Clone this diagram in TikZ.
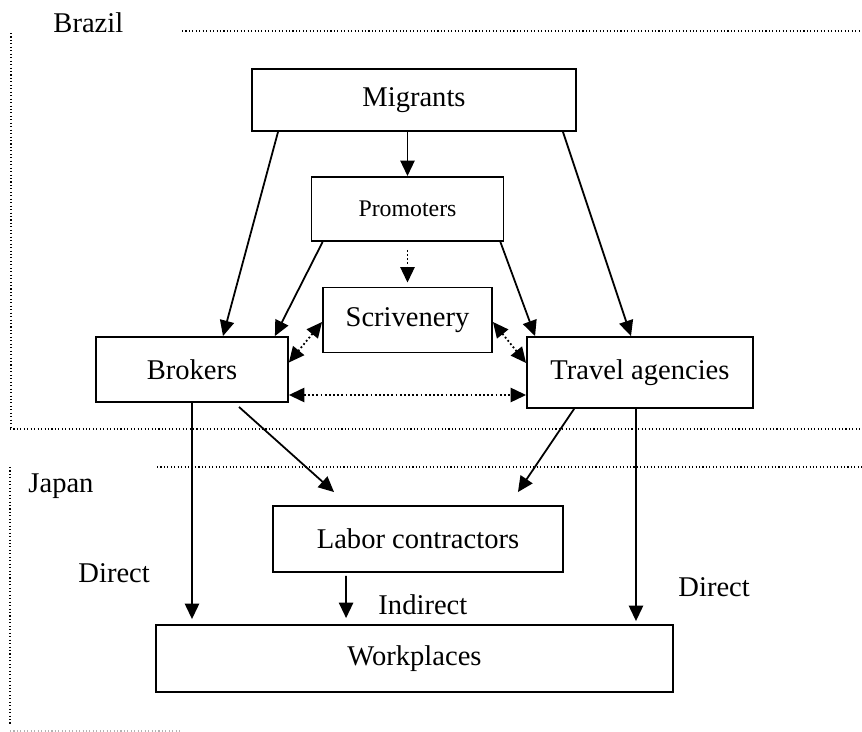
\documentclass[tikz,border=0pt]{standalone}
\usepackage{fontspec}
\setmainfont{Liberation Serif}
\usetikzlibrary{arrows.meta, calc}

\begin{document}
\begin{tikzpicture}[x=0.42pt, y=-0.42pt,
	box/.style={draw, line width=0.8pt, inner sep=0pt, font=\fontsize{12}{14}\selectfont},
	tag/.style={inner sep=0pt, anchor=base west, font=\fontsize{12}{14}\selectfont},
	link/.style={line width=0.75pt, -{Triangle[length=6.5pt, width=6pt]}},
	twoway/.style={line width=0.75pt, densely dotted, {Triangle[length=6.5pt, width=6pt]}-{Triangle[length=6.5pt, width=6pt]}},
	border/.style={line width=0.45pt, densely dotted}]
	   \useasboundingbox (0, 0) rectangle (862, 732);
	   % country borders
	   \draw [border] (182, 31) -- (862, 31);
	   \draw [border] (11, 33) -- (11, 429);
	   \draw [border] (10, 429) -- (862, 429);
	   \draw [border] (157, 467) -- (862, 467);
	   \draw [border] (10, 467) -- (10, 724);
	   \draw [border, gray!60] (10, 731) -- (180, 731);
	   \node [tag] (brazil) at (53, 32) {Brazil};
	   \node [tag] (japan) at (28, 492) {Japan};
	   % the boxes
	   \node [box, minimum width=136.1pt, minimum height=26pt] (migrants) at (414, 100) {Migrants};
	   \node [box, minimum width=80.6pt, minimum height=26.9pt, font=\fontsize{10}{12}\selectfont] (promoters) at (407.5, 209) {Promoters};
	   \node [box, minimum width=71pt, minimum height=27.3pt] (scriv) at (407.5, 320) {Scrivenery};
	   \node [box, minimum width=80.6pt, minimum height=27.3pt] (brokers) at (192, 369.5) {Brokers};
	   \node [box, minimum width=94.9pt, minimum height=29.8pt] (travel) at (640, 372.5) {Travel agencies};
	   \node [box, minimum width=121.8pt, minimum height=27.7pt] (labor) at (418, 539) {Labor contractors};
	   \node [box, minimum width=217.1pt, minimum height=28.1pt] (work) at (414.5, 658.5) {Workplaces};
	   % brazil side
	   \draw [link] (migrants.south -| promoters.north) -- (promoters.north);
	   \draw [link] ($(migrants.south west)+(27, 0)$) -- ($(brokers.north)+(31, 0)$);
	   \draw [link] ($(migrants.south east)+(-14, 0)$) -- ($(travel.north)+(-9, 0)$);
	   \draw [link] ($(promoters.south west)+(12, 0)$) -- ($(brokers.north east)+(-14, 0)$);
	   \draw [link] ($(promoters.south east)+(-4, 0)$) -- ($(travel.north west)+(9, 0)$);
	   \draw [link, densely dotted] ($(promoters.south)+(0, 8)$) -- ($(scriv.north)+(0, -4)$);
	   \draw [twoway] ($(scriv.west)+(0, 2)$) -- ($(brokers.east)+(0, -7)$);
	   \draw [twoway] ($(scriv.east)+(0, 2)$) -- ($(travel.west)+(0, -9.5)$);
	   \draw [twoway] ($(brokers.east)+(0, 25.5)$) -- ($(travel.west)+(0, 22.5)$);
	   % japan side
	   \draw [link] (brokers.south) -- ($(brokers.south |- work.north)+(0, -5)$);
	   \draw [link] ($(brokers.south)+(47, 4)$) -- ($(labor.north west)+(62, -13)$);
	   \draw [link] ($(travel.south west)+(48, 0)$) -- ($(labor.north east)+(-46, -13)$);
	   \draw [link] ($(travel.south)+(-4, 0)$) -- ($(travel.south |- work.north)+(-4, -3)$);
	   \draw [link] ($(labor.south west)+(74, 3)$) -- ($(work.north west)+(191, -6)$);
	   \node [tag] (direct1) at (78, 582) {Direct};
	   \node [tag] (indirect) at (378, 614) {Indirect};
	   \node [tag] (direct2) at (678, 597) {Direct};
	\end{tikzpicture}
\end{document}
